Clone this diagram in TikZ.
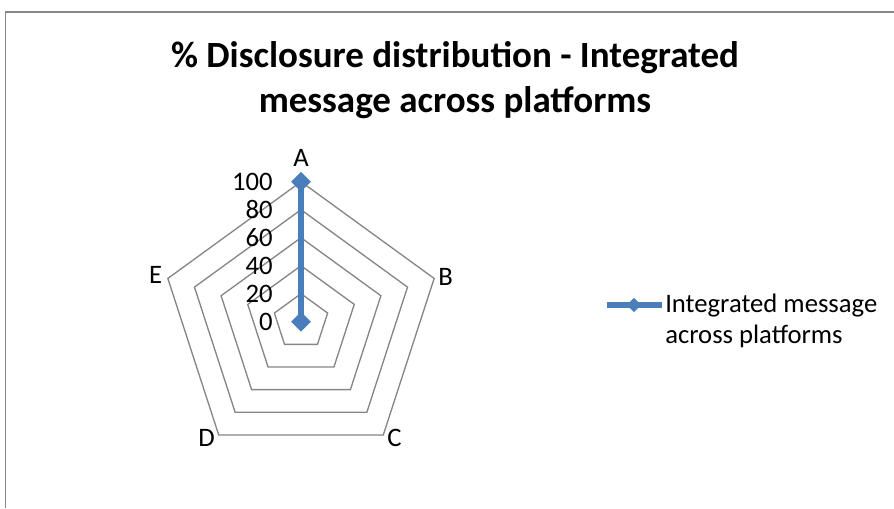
\documentclass[tikz,border=0pt]{standalone}
\usepackage{fontspec}
\setmainfont{Carlito}
\usepackage{xcolor}
\usetikzlibrary{shapes.geometric}

\definecolor{gridgray}{HTML}{868686}
\definecolor{seriesblue}{HTML}{4A7EBB}

\tikzset{
    ring/.style={draw=gridgray, line width=1pt, line join=miter},
    series/.style={draw=seriesblue, line width=4.5pt},
    marker/.style={diamond, fill=seriesblue, inner sep=0pt, minimum size=15pt},
    lbl/.style={font=\fontsize{20}{24}\selectfont, inner sep=0pt},
    charttitle/.style={font=\bfseries\fontsize{27.75}{33}\selectfont, inner sep=0pt, anchor=base},
}

\begin{document}
\begin{tikzpicture}[x=0.75pt, y=-0.75pt]
        \useasboundingbox (0,0) rectangle (894,508);
        % chart frame, cut off at right and bottom
        \draw[gridgray, line width=1.2pt] (5.5,508) -- (5.5,11.7) -- (894,11.7);

        % title
        \node[charttitle] (title1) at (455,67) {\% Disclosure distribution - Integrated};
        \node[charttitle] (title2) at (455,112) {message across platforms};

        % radar grid
        \begin{scope}[shift={(301,321.7)}]
            \coordinate (o) at (0,0);
            \coordinate (a) at (-90:140);
            \coordinate (b) at (-18:140);
            \coordinate (c) at (54:140);
            \coordinate (d) at (126:140);
            \coordinate (e) at (198:140);
            \foreach \r in {28,56,84,112,140}
                \draw[ring] (-90:\r) -- (-18:\r) -- (54:\r) -- (126:\r) -- (198:\r) -- cycle;
            \draw[ring] (o) -- (a);

            % value axis labels
            \foreach \v [count=\i from 0] in {0,20,40,60,80,100}
                \node[lbl, anchor=base east] (v\v) at (-28,{-28*\i+9}) {\v};

            % data series
            \draw[series] (o) -- (a);
            \node[marker] (ma) at (a) {};
            \node[marker] (mo) at (o) {};
        \end{scope}

        % category labels
        \node[lbl, anchor=base] (la) at (301,166.7) {A};
        \node[lbl, anchor=base west] (lb) at (438,285) {B};
        \node[lbl, anchor=base west] (lc) at (387,446.7) {C};
        \node[lbl, anchor=base east] (ld) at (215,446.7) {D};
        \node[lbl, anchor=base east] (le) at (162.3,283.3) {E};

        % legend
        \coordinate (legl) at (607,305);
        \coordinate (legr) at (662,305);
        \draw[series] (legl) -- (legr);
        \node[marker, minimum size=11pt] (legm) at (634,305) {};
        \node[lbl, anchor=base west] (leg1) at (665,312.3) {Integrated message};
        \node[lbl, anchor=base west] (leg2) at (665,343.3) {across platforms};
\end{tikzpicture}
\end{document}
